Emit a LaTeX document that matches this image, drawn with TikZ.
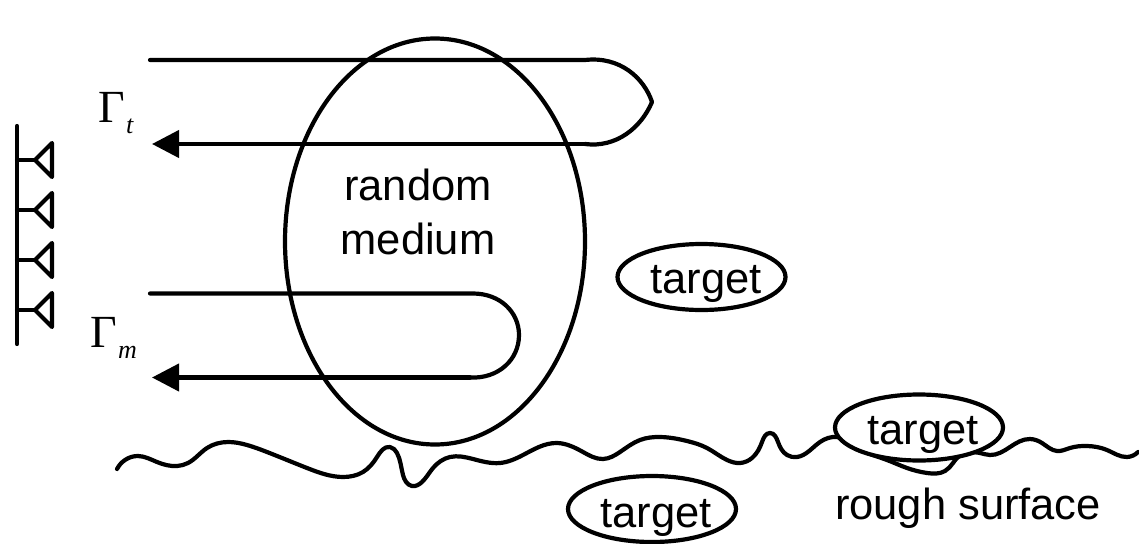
\documentclass[tikz,border=0pt]{standalone}
\usepackage{fontspec}
\setmainfont{Liberation Sans}
\newfontfamily\gammafont{Liberation Serif}
\usetikzlibrary{shapes.geometric,arrows.meta,hobby}
\tikzset{
  ink/.style={line width=4.2pt,black,line cap=round,line join=round},
  blob/.style={ink,draw,shape=ellipse,inner sep=0pt,minimum width=168pt,minimum height=66pt,fill=white},
  big/.style={ink,draw,shape=ellipse,inner sep=0pt,minimum width=300pt,minimum height=406pt},
  lbl/.style={anchor=base,inner sep=0pt,font=\fontsize{43.5}{50}\selectfont},
  gam/.style={anchor=base west,inner sep=0pt,font=\gammafont\fontsize{46}{50}\selectfont},
  sub/.style={anchor=base west,inner sep=0pt,font=\gammafont\itshape\fontsize{26}{28}\selectfont},
  head/.style={-{Triangle[length=27pt,width=27pt]}}
}
\begin{document}
\begin{tikzpicture}[x=1pt,y=-1pt,use Hobby shortcut]
\useasboundingbox (0,0) rectangle (1139,543);
% antenna array
\coordinate (mastT) at (17,126);
\coordinate (mastB) at (17,344);
\draw[ink] (mastT) -- (mastB);
\foreach \n/\y in {a/160,b/210,c/260,d/310}{
  \coordinate (\n0) at (17,\y);
  \coordinate (\n1) at (35,\y);
  \coordinate (\n2) at (52,\y-17);
  \coordinate (\n3) at (52,\y+17);
  \draw[ink] (\n0) -- (\n1);
  \draw[ink] (\n1) -- (\n2) -- (\n3) -- cycle;
}
% rough surface
\draw[ink] (117,469) .. (125,460) .. (138,456) .. (157,462) .. (177,466) .. (188,463) .. (207,448)
 .. (228,442) .. (247,445) .. (267,452) .. (307,468) .. (343,477) .. (363,472) .. (377,457)
 .. (390,447) .. (397,453) .. (403,475) .. (412,486) .. (422,482) .. (433,468) .. (450,457)
 .. (473,459) .. (500,463) .. (523,455) .. (557,443) .. (583,452) .. (603,459) .. (620,452)
 .. (640,440) .. (660,437) .. (687,441) .. (707,448) .. (727,460) .. (740,463) .. (752,458)
 .. (762,442) .. (770,433) .. (778,442) .. (787,455) .. (797,457) .. (820,442) .. (837,437)
 .. (862,450) .. (887,460) .. (907,468) .. (927,473) .. (945,471) .. (953,463) .. (957,458)
 .. (980,453) .. (990,455) .. (1010,447) .. (1030,439) .. (1042,443) .. (1057,451) .. (1070,448)
 .. (1087,446) .. (1107,450) .. (1127,457) .. (1138,452);
% medium
\node[big] (medium) at (435,241.5) {};
\node[lbl] (random) at (418,200) {random};
\node[lbl] (mediumtxt) at (418,254) {medium};
% top ray
\coordinate (t0) at (150,60);
\coordinate (t1) at (585,60);
\coordinate (t2) at (652,102);
\coordinate (t3) at (585,144);
\coordinate (t4) at (152,144);
\draw[ink] (t0) -- (t1) .. controls (620,56) and (644,78) .. (t2)
   .. controls (641,128) and (616,148) .. (t3);
\draw[ink,head] (t3) -- (t4);
% bottom ray
\coordinate (m0) at (150,293.5);
\coordinate (m1) at (473,293.5);
\coordinate (m2) at (519,335);
\coordinate (m3) at (470,377.5);
\coordinate (m4) at (152,377.5);
\draw[ink] (m0) -- (m1) .. controls (500,293.5) and (519,312) .. (m2)
   .. controls (519,360) and (498,379) .. (m3);
\draw[ink,head] (m3) -- (m4);
% gamma labels
\node[gam] (gt) at (98,122) {Γ};
\node[sub] (gts) at (126,133) {t};
\node[gam] (gm) at (90,347) {Γ};
\node[sub] (gms) at (118,358) {m};
% targets
\node[blob] (e1) at (701.5,277) {};
\node[lbl] (t1txt) at (706,293) {target};
\node[blob] (e2) at (652,509) {};
\node[lbl] (t2txt) at (656,527) {target};
\node[blob] (e3) at (919,427.5) {};
\node[lbl] (t3txt) at (923,444) {target};
\node[lbl] (rough) at (968,519) {rough surface};
\end{tikzpicture}
\end{document}
